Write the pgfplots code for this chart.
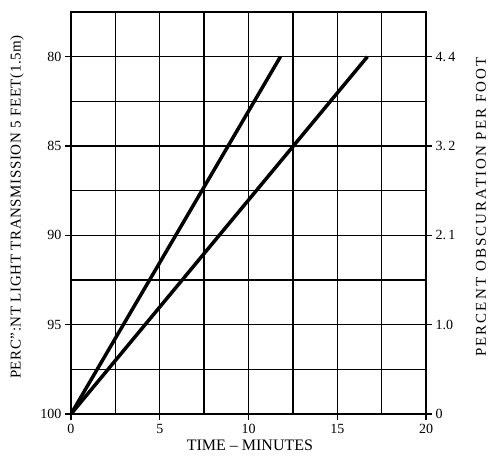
\documentclass[border=0pt]{standalone}
\usepackage{fontspec}
\setmainfont{Liberation Serif}
\usepackage{pgfplots}
\pgfplotsset{compat=1.18}
\begin{document}
\begin{tikzpicture}
\pgfplotsset{
  common/.style={
    scale only axis, width=355pt, height=402pt,
    xmin=0, xmax=20, ymin=77.5, ymax=100, y dir=reverse,
    /pgf/number format/assume math mode=true,
    tick label style={font=\fontsize{14}{16}\selectfont},
    label style={font=\fontsize{15}{16}\selectfont},
    tick align=outside, major tick length=6pt, minor tick length=0pt,
    tick style={black, line width=1.3pt},
    axis line style={line width=2pt},
  }
}
\begin{axis}[common,
  xtick={0,5,10,15,20}, minor xtick={2.5,7.5,12.5,17.5},
  ytick={80,85,90,95,100}, minor ytick={77.5,82.5,87.5,92.5,97.5},
  xtick pos=lower, ytick pos=left,
  xticklabel style={yshift=-1pt},
  grid=both, major grid style={black, line width=1.4pt}, minor grid style={black, line width=1.4pt},
  xlabel={TIME -- MINUTES},
  xlabel style={at={([yshift=-31pt]axis description cs:0.504,0)}, anchor=center, font=\fontsize{16}{17}\selectfont},
  ylabel={\addfontfeatures{LetterSpace=4}PERC'':NT LIGHT TRANSMISSION 5 FEET(1.5m)},
  ylabel style={at={([xshift=-54pt]axis description cs:0,0.515)}, anchor=center},
]
\addplot[black, line width=3.5pt] coordinates {(0,100) (11.8,80)};
\addplot[black, line width=3.5pt] coordinates {(0,100) (16.7,80)};
\end{axis}
\begin{axis}[common,
  axis x line=none, axis y line*=right,
  ytick={80,85,90,95,100}, yticklabels={4.\,4,3.\,2,2.\,1,1.0,0},
  ylabel={\addfontfeatures{LetterSpace=14}PERCENT OBSCURATION PER FOOT},
  ylabel style={at={([xshift=55pt]axis description cs:1,0.515)}, anchor=center, rotate=0},
]
\end{axis}
\pgfresetboundingbox
\path[use as bounding box] (-71pt,-41pt) rectangle (423pt,414pt);
\end{tikzpicture}
\end{document}
